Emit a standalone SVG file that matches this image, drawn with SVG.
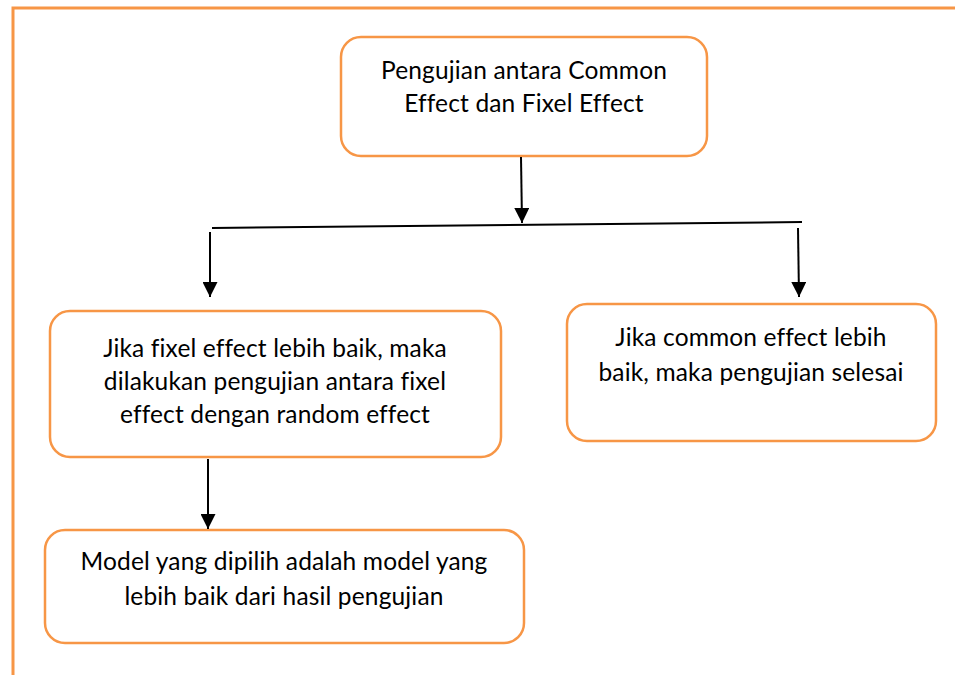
<svg xmlns="http://www.w3.org/2000/svg" width="955" height="675" viewBox="0 0 955 675">
<style>
.node rect{fill:#fff;stroke:#F79646;stroke-width:2.5}
.node text{font-family:Lato,"Open Sans","Liberation Sans",sans-serif;font-size:24.5px;letter-spacing:0.15px;fill:#000;text-anchor:middle}
.conn line{stroke:#000;stroke-width:2}
.frame{fill:none;stroke:#F79646;stroke-width:3}
</style>
<defs>
<marker id="ah" viewBox="0 0 10 10" refX="10" refY="5" markerWidth="7.5" markerHeight="7.5" markerUnits="strokeWidth" orient="auto">
<path d="M0,0 L10,5 L0,10 z" fill="#000"/>
</marker>
</defs>
<path class="frame" d="M13,676 V8 H956"/>
<g id="n1" class="node">
<rect x="341" y="37" width="366" height="119" rx="20"/>
<text x="524" y="79">Pengujian antara Common</text>
<text x="524" y="112">Effect dan Fixel Effect</text>
</g>
<g id="n2" class="node">
<rect x="50" y="311" width="451" height="146" rx="20"/>
<text x="275" y="357">Jika fixel effect lebih baik, maka</text>
<text x="275" y="390">dilakukan pengujian antara fixel</text>
<text x="275" y="423">effect dengan random effect</text>
</g>
<g id="n3" class="node">
<rect x="567" y="304" width="369" height="137" rx="20"/>
<text x="751" y="346">Jika common effect lebih</text>
<text x="751" y="381">baik, maka pengujian selesai</text>
</g>
<g id="n4" class="node">
<rect x="45" y="530" width="479" height="113" rx="20"/>
<text x="284" y="570">Model yang dipilih adalah model yang</text>
<text x="284" y="605">lebih baik dari hasil pengujian</text>
</g>
<g id="connectors" class="conn">
<line x1="521" y1="157" x2="522" y2="223" marker-end="url(#ah)"/>
<line x1="212" y1="228" x2="802" y2="222"/>
<line x1="210" y1="232" x2="210" y2="297" marker-end="url(#ah)"/>
<line x1="798" y1="228" x2="799" y2="297" marker-end="url(#ah)"/>
<line x1="208" y1="459" x2="208" y2="529" marker-end="url(#ah)"/>
</g>
</svg>
